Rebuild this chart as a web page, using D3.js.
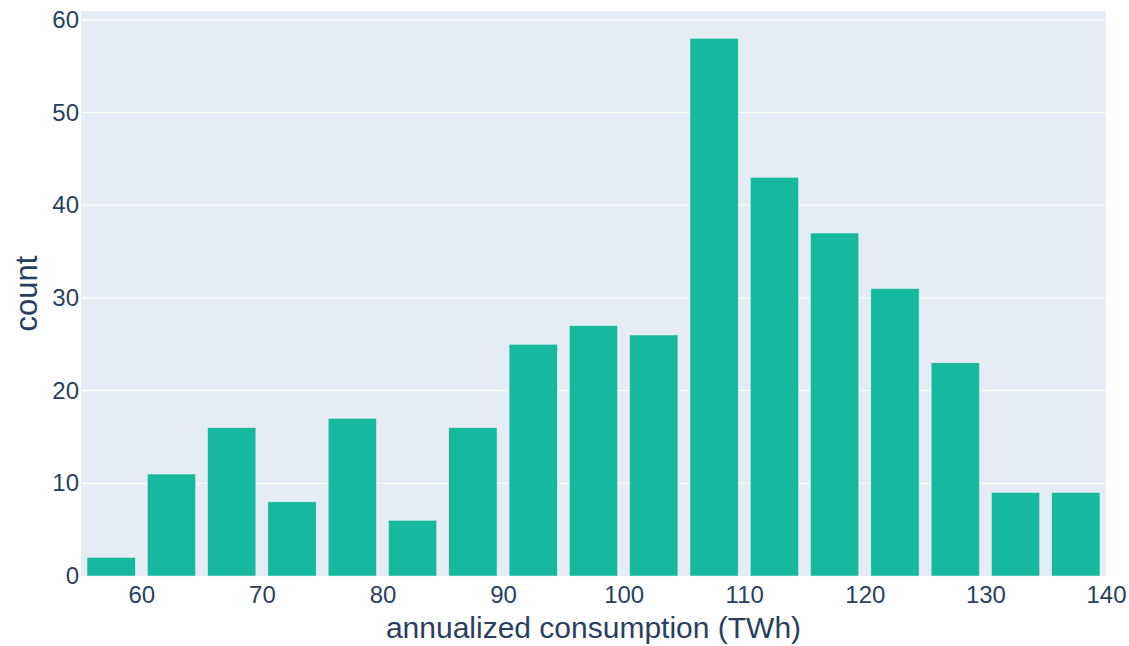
<!DOCTYPE html>
<html><head><meta charset="utf-8">
<script src="https://cdn.jsdelivr.net/npm/d3@7"></script>
<style>body{margin:0;background:#fff;} text{font-family:"Liberation Sans",Arial,sans-serif;fill:#2a3f5f;}</style>
</head><body><svg id="c" width="1129" height="646"></svg>
<script>
const binStarts = [55,60,65,70,75,80,85,90,95,100,105,110,115,120,125,130,135];
const binSize = 5;
const counts = [2,11,16,8,17,6,16,25,27,26,58,43,37,31,23,9,9];
const xTicks = [60,70,80,90,100,110,120,130,140];
const yTicks = [0,10,20,30,40,50,60];
const xTitle = "annualized consumption (TWh)";
const yTitle = "count";

const svg = d3.select("#c");
const L=81,R=1106,T=11,B=576;
const x = d3.scaleLinear().domain([55,140]).range([L,R]);
const y = d3.scaleLinear().domain([0,60.95]).range([B,T]);

svg.append("rect").attr("x",L).attr("y",T).attr("width",R-L).attr("height",B-T).attr("fill","#e5ecf6");
svg.append("g").selectAll("line").data(yTicks.filter(d=>d>0)).join("line")
  .attr("x1",L).attr("x2",R).attr("y1",d=>y(d)).attr("y2",d=>y(d)).attr("stroke","#fff").attr("stroke-width",1);

const gap = 0.2;
svg.append("g").selectAll("rect").data(binStarts).join("rect")
  .attr("x",(d)=>x(d)+ (x(d+binSize)-x(d))*gap/2)
  .attr("width",d=>(x(d+binSize)-x(d))*(1-gap))
  .attr("y",(d,i)=>y(counts[i]))
  .attr("height",(d,i)=>B-y(counts[i]))
  .attr("fill","#16b99d").attr("stroke","#e5ecf6").attr("stroke-width",0.5);

const xAxis = d3.axisBottom(x).tickValues(xTicks).tickSize(0).tickPadding(10);
const gx = svg.append("g").attr("transform",`translate(0,${B})`).call(xAxis);
gx.select(".domain").remove();
gx.selectAll("text").style("font-size","24px").attr("fill","#2a3f5f").style("font-family","Liberation Sans, Arial, sans-serif");

const yAxis = d3.axisLeft(y).tickValues(yTicks).tickSize(0).tickPadding(2);
const gy = svg.append("g").attr("transform",`translate(${L},0)`).call(yAxis);
gy.select(".domain").remove();
gy.selectAll("text").style("font-size","24px").attr("fill","#2a3f5f").style("font-family","Liberation Sans, Arial, sans-serif");

svg.append("text").attr("x",(L+R)/2).attr("y",638).attr("text-anchor","middle").style("font-size","30px").text(xTitle);
svg.append("text").attr("transform",`translate(37,${(T+B)/2}) rotate(-90)`).attr("text-anchor","middle").style("font-size","31px").text(yTitle);
</script></body></html>
